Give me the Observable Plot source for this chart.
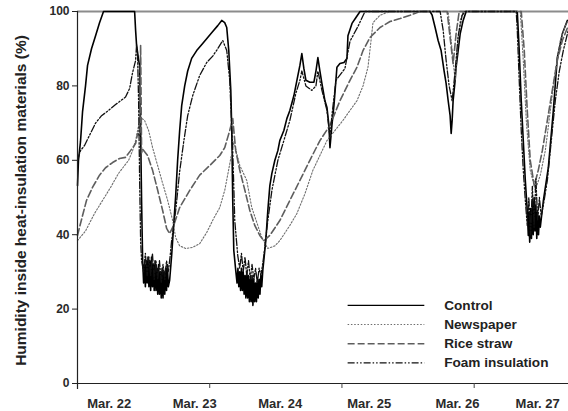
<!DOCTYPE html>
<html>
<head>
<meta charset="utf-8">
<script src="https://cdn.jsdelivr.net/npm/d3@7"></script>
<script src="https://cdn.jsdelivr.net/npm/@observablehq/plot@0.6"></script>
<style>
  body { margin: 0; background: #fff; }
  #chart svg { display: block; }
</style>
</head>
<body>
<div id="chart"></div>
<script>
// Relative humidity (%) inside each insulation material, sampled along a time
// axis measured in days from the start of the record (Mar. 22).

const control = [
  [0,53.2],[0.011,60],[0.034,65],[0.057,73],[0.091,80],[0.114,85.5],[0.159,90],[0.205,93.5],[0.25,97],[0.295,100],
  [0.648,100],[0.659,95],[0.67,91],[0.693,87],[0.705,85.5],[0.716,68],[0.727,49],[0.739,33],
  [0.75,27],[0.76,32],[0.77,26],[0.78,33],[0.79,27],[0.80,34],[0.81,26],[0.82,33],[0.83,25],[0.84,34],[0.85,26],
  [0.86,32],[0.87,25],[0.88,33],[0.89,25],[0.90,31],[0.91,24],[0.92,32],[0.93,24],[0.94,30],[0.95,23],[0.96,31],
  [0.97,23],[0.98,30],[0.99,24],[1.00,31],[1.01,25],[1.02,32],[1.03,26],[1.045,27.7],
  [1.068,34.4],[1.091,42.5],[1.114,50.5],[1.136,60],[1.159,68],[1.182,74.7],[1.216,80],[1.25,84],[1.295,87.4],
  [1.352,89.5],[1.42,91.4],[1.477,93],[1.534,94.6],[1.591,96.2],[1.636,97.6],[1.67,97],[1.693,95.7],[1.716,89.5],
  [1.739,78.8],[1.75,68],[1.761,49.2],[1.773,35.8],[1.795,30.4],
  [1.81,27],[1.82,31],[1.83,26],[1.84,30],[1.85,25],[1.86,31],[1.87,25],[1.88,30],[1.89,24],[1.90,29],[1.91,23],
  [1.92,30],[1.93,23],[1.94,29],[1.95,22],[1.96,28],[1.97,22],[1.98,29],[1.99,21],[2.00,28],[2.01,22],[2.02,27],
  [2.03,22],[2.04,28],[2.05,23],[2.06,28],[2.07,24],[2.08,29],[2.09,26],
  [2.102,30.4],[2.136,38.4],[2.159,46.5],[2.182,53.2],[2.205,56.5],[2.239,60],[2.273,62.6],[2.295,65.3],[2.341,68],
  [2.375,71.2],[2.409,73.4],[2.455,77.4],[2.489,81.5],[2.523,85.5],[2.545,88.7],[2.568,84.7],[2.591,81.5],[2.636,81],
  [2.682,81],[2.705,84],[2.727,87.6],[2.75,84],[2.773,80.6],[2.807,76],[2.83,74.2],[2.852,69.4],[2.864,63.4],
  [2.886,69.4],[2.909,74.7],[2.943,85],[2.977,86],[3.023,86.3],[3.057,87.4],[3.068,93.5],[3.114,96.8],[3.159,98.4],
  [3.205,100],[4.0,100],[4.023,99],[4.057,95.7],[4.091,92.2],[4.125,89.5],[4.159,84],[4.182,80.6],[4.205,76],
  [4.227,72],[4.239,67.2],[4.25,70.7],[4.261,76],[4.284,81.5],[4.295,85],[4.318,89.5],[4.341,94],[4.375,97.6],
  [4.409,100],[4.989,100],[5.011,89.5],[5.034,76],[5.057,65.3],[5.08,54.6],[5.102,46.5],[5.114,39.8],
  [5.12,46],[5.13,38],[5.14,47],[5.15,39],[5.16,49],[5.17,40],[5.18,50],[5.19,41],[5.20,48],[5.21,39],[5.22,46],
  [5.23,40],[5.24,45],[5.25,42],[5.284,49],[5.341,58],[5.398,73.4],[5.443,87.6],[5.5,94],[5.557,97.6]
];

const newspaper = [
  [0,38.4],[0.091,41],[0.193,45.7],[0.284,49.2],[0.375,52.7],[0.466,56.5],[0.534,58.6],[0.58,60],[0.625,62.6],
  [0.659,65.3],[0.693,69.4],[0.716,71.5],[0.761,70.7],[0.807,68],[0.852,63.4],[0.909,58.6],[0.966,53.8],[1.023,49.2],
  [1.08,43.8],[1.114,39.2],[1.159,37],[1.227,36.3],[1.307,36.6],[1.386,37.6],[1.466,40.6],[1.545,44.4],[1.614,47.3],
  [1.67,51.9],[1.727,59],[1.773,65],[1.841,58.6],[1.92,54.6],[1.977,47.3],[2.034,43.3],[2.091,39.2],[2.159,36.3],
  [2.239,37],[2.295,38.4],[2.409,42.5],[2.489,45.7],[2.58,51],[2.67,57.3],[2.75,61.3],[2.83,65.3],[2.92,68],
  [3.011,70.7],[3.091,73.4],[3.17,76],[3.239,80],[3.295,85],[3.33,92.2],[3.352,97],[3.432,99],[3.545,100],
  [4.205,100],[4.227,95],[4.261,86.8],[4.284,81.5],[4.307,89.5],[4.341,97.6],[4.375,100],
  [5.023,100],[5.057,86.8],[5.091,70.7],[5.136,57.3],[5.193,52],[5.25,56],[5.307,62.6],[5.364,73.4],[5.42,84],
  [5.477,92.2],[5.534,96.2],[5.568,97.6]
];

const riceStraw = [
  [0,39.8],[0.034,43],[0.102,49.2],[0.17,52.7],[0.25,56],[0.318,58],[0.398,59.4],[0.477,60.5],[0.545,60.8],
  [0.602,62.6],[0.659,64.5],[0.682,67.2],[0.705,66.7],[0.716,91],[0.727,62],[0.739,63],[0.795,61.3],[0.852,57.3],
  [0.909,52],[0.966,46.5],[1.011,41.7],[1.045,40.3],[1.091,42.5],[1.159,47.3],[1.273,51.9],[1.386,56],[1.5,58.6],
  [1.614,61.3],[1.67,63.4],[1.727,68],[1.761,71.2],[1.795,62.6],[1.841,57.3],[1.898,52],[1.955,46.5],[2.011,42.5],
  [2.068,39.8],[2.114,38.4],[2.182,39.8],[2.295,43.8],[2.409,49.2],[2.523,54.6],[2.636,60],[2.75,65.3],[2.864,69.4],
  [2.977,76],[3.091,81.5],[3.17,85],[3.239,89.5],[3.318,93],[3.432,95.7],[3.545,97.3],[3.659,98.1],[3.773,99],
  [3.886,100],[4.193,100],[4.227,93],[4.261,86],[4.295,94],[4.33,100],
  [5.034,100],[5.068,89.5],[5.102,73.4],[5.136,60],[5.182,53.2],[5.227,57.3],[5.273,62.6],[5.33,70.7],[5.386,78.8],
  [5.443,86.8],[5.5,92.2],[5.568,96.2]
];

const foam = [
  [0,60],[0.034,62.6],[0.08,64],[0.136,66.7],[0.205,70],[0.273,72],[0.352,73.4],[0.432,75],[0.489,76],[0.545,77],
  [0.591,79.3],[0.625,83.6],[0.659,86.8],[0.67,91],[0.682,88],[0.693,76],[0.705,54.6],[0.716,38.4],[0.727,33],
  [0.75,30],[0.77,35],[0.79,29],[0.81,34],[0.83,29],[0.85,35],[0.87,28],[0.89,33],[0.91,28],[0.93,33],[0.95,27],
  [0.97,32],[0.99,28],[1.01,33],[1.03,30],[1.05,34],
  [1.068,38.4],[1.114,46.5],[1.159,57],[1.205,65],[1.25,72],[1.307,77.4],[1.386,82.8],[1.466,86.3],[1.534,88],
  [1.591,90],[1.648,92.2],[1.693,89.5],[1.727,81.5],[1.761,62.6],[1.784,43.8],[1.818,34.4],
  [1.84,31],[1.86,35],[1.88,30],[1.90,34],[1.92,29],[1.94,33],[1.96,28],[1.98,32],[2.00,28],[2.02,31],[2.04,27],
  [2.06,31],[2.08,29],[2.10,32],
  [2.114,34.4],[2.159,43.8],[2.205,51.9],[2.273,60],[2.341,65.3],[2.409,70.7],[2.477,78],[2.523,81.5],[2.545,84],
  [2.591,80],[2.659,78.8],[2.705,80],[2.727,84],[2.773,78.8],[2.83,73.4],[2.864,66],[2.886,72],[2.932,81.5],
  [3.034,84.7],[3.091,92],[3.182,96],[3.261,100],[4.114,100],[4.148,95],[4.182,86.8],[4.216,80],[4.25,76],
  [4.284,84],[4.318,93.5],[4.364,99],[4.398,100],
  [4.977,100],[4.989,95],[5.011,81.5],[5.034,68],[5.057,57.3],[5.08,49.2],[5.102,42.5],
  [5.12,50],[5.14,40],[5.16,53],[5.18,42],[5.20,55],[5.22,44],[5.24,50],[5.26,45],
  [5.284,47.8],[5.33,54.6],[5.375,65.3],[5.42,76],[5.466,84],[5.511,89.5],[5.568,95]
];

const seriesNames = ["Control", "Newspaper", "Rice straw", "Foam insulation"];
const seriesData = [control, newspaper, riceStraw, foam];

// Date labels and the positions (days) they sit under; unlabelled ticks every 36 h
const dateLabels = ["Mar. 22", "Mar. 23", "Mar. 24", "Mar. 25", "Mar. 26", "Mar. 27"];
const dateLabelDays = [0.36, 1.33, 2.3, 3.31, 4.31, 5.22];
const xTickDays = [1.5, 3.0, 4.5];
const yTicks = [0, 20, 40, 60, 80, 100];
const yLabel = "Humidity inside heat-insulation materials (%)";

const styles = [
  {stroke: "#000", strokeWidth: 1.6, strokeDasharray: null},
  {stroke: "#6e6e6e", strokeWidth: 1.1, strokeDasharray: "1.5,1.8"},
  {stroke: "#5e5e5e", strokeWidth: 1.6, strokeDasharray: "7,3"},
  {stroke: "#111", strokeWidth: 1.3, strokeDasharray: "7,2,1.5,2,1.5,2"}
];

// Legend placement in data units (inside the lower right of the frame)
const legend = {x1: 3.07, x2: 3.94, xText: 4.16, yTop: 21, step: 5.15};

const labelOf = new Map(dateLabelDays.map((d, i) => [d, dateLabels[i]]));
const font = "'Liberation Sans', Arial, Helvetica, sans-serif";

const lineMarks = seriesData.map((data, i) =>
  Plot.line(data, {x: d => d[0], y: d => d[1], ...styles[i], strokeLinejoin: "round"})
);

const legendRows = seriesNames.map((name, i) => ({name, i, y: legend.yTop - i * legend.step}));
const legendMarks = legendRows.flatMap(r => [
  Plot.ruleY([r], {x1: legend.x1, x2: legend.x2, y: "y", ...styles[r.i], strokeWidth: Math.min(styles[r.i].strokeWidth, 1.4)}),
  Plot.text([r], {x: legend.xText, y: "y", text: "name", textAnchor: "start", fontSize: 13.6, fontWeight: "bold", fill: "#222"})
]);

const chart = Plot.plot({
  width: 568,
  height: 411,
  marginLeft: 77,
  marginRight: 0,
  marginTop: 11,
  marginBottom: 28,
  style: {fontFamily: font, background: "#fff", overflow: "visible"},
  x: {domain: [0, 5.57]},
  y: {domain: [0, 100]},
  marks: [
    Plot.ruleY([100], {stroke: "#8c8c8c", strokeWidth: 2}),
    ...lineMarks,
    Plot.ruleY([0], {stroke: "#222", strokeWidth: 1.2}),
    Plot.ruleX([0], {y1: -1.6, y2: 100, stroke: "#222", strokeWidth: 1.2}),
    Plot.axisY({ticks: yTicks, tickSize: 5, tickPadding: 3, fontSize: 12, fontWeight: "bold", label: null, stroke: "#222", fill: "#2a2a2a"}),
    Plot.axisX({ticks: xTickDays, tickSize: 5, tickFormat: () => "", label: null, stroke: "#444"}),
    Plot.axisX({ticks: dateLabelDays, tickSize: 0, tickPadding: 15, tickFormat: d => labelOf.get(d), fontSize: 13, fontWeight: "bold", label: null, fill: "#2a2a2a"}),
    Plot.text([yLabel], {frameAnchor: "left", textAnchor: "middle", dx: -56, dy: 3, rotate: -90, text: d => d, fontSize: 15.5, fontWeight: "bold", fill: "#222"}),
    ...legendMarks
  ]
});

document.getElementById("chart").append(chart);
</script>
</body>
</html>
